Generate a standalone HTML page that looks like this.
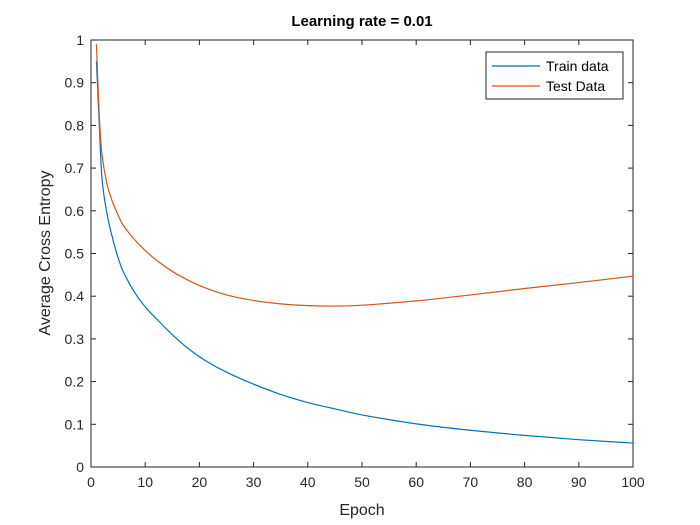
<!DOCTYPE html>
<html><head><meta charset="utf-8"><style>
body{margin:0;background:#fff;}
svg{display:block;font-family:"Liberation Sans",Arial,sans-serif;}
</style></head><body>
<svg id="chart" width="700" height="525">
<rect x="0" y="0" width="700" height="525" fill="#fff"/>
<g id="axes"></g>
<g id="series"></g>
<text x="362" y="26" text-anchor="middle" font-size="15" font-weight="bold" fill="#000">Learning rate = 0.01</text>
<text x="362" y="515" text-anchor="middle" font-size="16" fill="#262626">Epoch</text>
<text transform="translate(50,253) rotate(-90)" text-anchor="middle" font-size="16" fill="#262626">Average Cross Entropy</text>
<g>
<rect x="486" y="52" width="137" height="47" fill="#fff" stroke="#262626" stroke-width="1"/>
<line x1="492" y1="66" x2="540" y2="66" stroke="#0072BD" stroke-width="1.2"/>
<text x="546" y="71" font-size="14" fill="#000">Train data</text>
<line x1="492" y1="86" x2="540" y2="86" stroke="#D95319" stroke-width="1.2"/>
<text x="546" y="91" font-size="14" fill="#000">Test Data</text>
</g>
</svg>
<script>
const epochs=[1,1.5,2,3,4,5,6,8,10,12,15,18,21,25,30,35,40,45,50,60,70,80,90,100];
const trainValues=[0.95,0.81,0.68,0.59,0.535,0.49,0.456,0.41,0.375,0.348,0.31,0.277,0.25,0.222,0.194,0.170,0.151,0.136,0.122,0.101,0.086,0.074,0.064,0.056];
const testValues=[0.99,0.83,0.735,0.66,0.62,0.59,0.565,0.533,0.507,0.485,0.458,0.437,0.42,0.403,0.39,0.382,0.378,0.377,0.379,0.389,0.403,0.418,0.432,0.447];
const xTicks=[0,10,20,30,40,50,60,70,80,90,100];
const yTicks=[0,0.1,0.2,0.3,0.4,0.5,0.6,0.7,0.8,0.9,1];
const L=91,R=633,T=40,B=467;
const sx=v=>L+(v-0)/(100-0)*(R-L);
const sy=v=>B-(v-0)/(1-0)*(B-T);
const NS="http://www.w3.org/2000/svg";
const axes=document.getElementById('axes');
function mk(tag,attrs,parent){const e=document.createElementNS(NS,tag);for(const k in attrs)e.setAttribute(k,attrs[k]);parent.appendChild(e);return e;}
const box=mk('rect',{x:L,y:T,width:R-L,height:B-T,fill:'none',stroke:'#262626','stroke-width':1},axes);


xTicks.forEach(t=>{
  const x=sx(t);
  mk('line',{x1:x,y1:B,x2:x,y2:B-5,stroke:'#262626'},axes);
  mk('line',{x1:x,y1:T,x2:x,y2:T+5,stroke:'#262626'},axes);
  const tx=mk('text',{x:x,y:B+20,'text-anchor':'middle','font-size':14,fill:'#262626'},axes);
  tx.textContent=t;
  
  
});
yTicks.forEach(t=>{
  const y=sy(t);
  mk('line',{x1:L,y1:y,x2:L+5,y2:y,stroke:'#262626'},axes);
  mk('line',{x1:R,y1:y,x2:R-5,y2:y,stroke:'#262626'},axes);
  const tx=mk('text',{x:L-7,y:y+5,'text-anchor':'end','font-size':14,fill:'#262626'},axes);
  tx.textContent=+t.toFixed(1);
  
  
});
function smoothPath(xs,ys){
  const p=xs.map((x,i)=>[sx(x),sy(ys[i])]);
  const n=p.length,m=[];
  for(let i=0;i<n;i++){
    const a=p[Math.max(i-1,0)],b=p[Math.min(i+1,n-1)];
    m.push((b[1]-a[1])/(b[0]-a[0]));
  }
  let d='M'+p[0][0]+','+p[0][1];
  for(let i=0;i<n-1;i++){
    const h=(p[i+1][0]-p[i][0])/3;
    d+=' C'+(p[i][0]+h)+','+(p[i][1]+m[i]*h)+' '+(p[i+1][0]-h)+','+(p[i+1][1]-m[i+1]*h)+' '+p[i+1][0]+','+p[i+1][1];
  }
  return d;
}
const series=document.getElementById('series');
const tr=mk('path',{d:smoothPath(epochs,trainValues),fill:'none',stroke:'#0072BD','stroke-width':1.2},series);


const te=mk('path',{d:smoothPath(epochs,testValues),fill:'none',stroke:'#D95319','stroke-width':1.2},series);


</script>
</body></html>
